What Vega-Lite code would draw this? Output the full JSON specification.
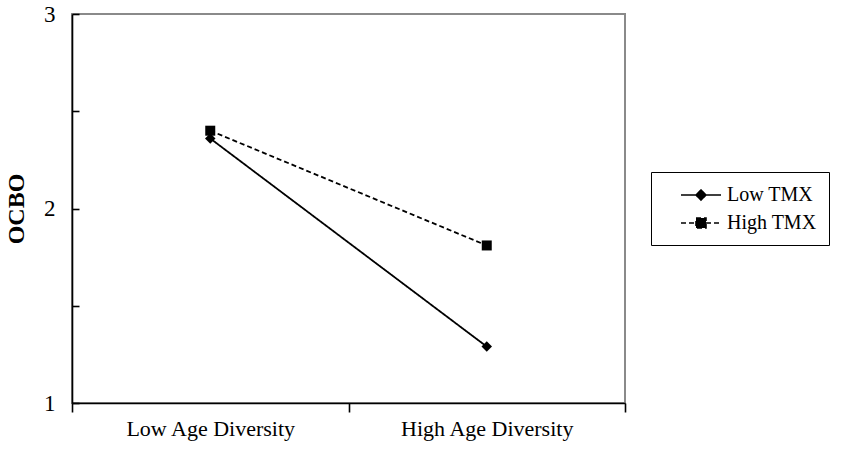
{
  "$schema": "https://vega.github.io/schema/vega-lite/v6.json",
  "autosize": {"type": "none"},
  "padding": {"left": 72, "top": 14, "right": 226, "bottom": 47},
  "width": 553,
  "height": 389,
  "background": "white",
  "data": {
    "values": [
      {"tmx": "Low TMX", "diversity": "Low Age Diversity", "ocbo": 2.36},
      {"tmx": "Low TMX", "diversity": "High Age Diversity", "ocbo": 1.29},
      {"tmx": "High TMX", "diversity": "Low Age Diversity", "ocbo": 2.40},
      {"tmx": "High TMX", "diversity": "High Age Diversity", "ocbo": 1.81}
    ]
  },
  "encoding": {
    "x": {
      "field": "diversity",
      "type": "nominal",
      "sort": ["Low Age Diversity", "High Age Diversity"],
      "scale": {"type": "band", "paddingInner": 0, "paddingOuter": 0},
      "title": null,
      "axis": {
        "tickBand": "extent",
        "tickSize": 9,
        "labelPadding": 6,
        "labelAngle": 0,
        "labelFontSize": 22
      }
    },
    "y": {
      "field": "ocbo",
      "type": "quantitative",
      "scale": {"domain": [1, 3]},
      "title": "OCBO",
      "axis": {
        "values": [1, 1.5, 2, 2.5, 3],
        "labelExpr": "datum.value % 1 === 0 ? format(datum.value, 'd') : ''",
        "tickSize": -7,
        "labelPadding": 24,
        "labelFontSize": 23,
        "titleFontSize": 24,
        "titleFontWeight": "bold",
        "titlePadding": 15
      }
    }
  },
  "layer": [
    {
      "mark": {"type": "line", "color": "black", "strokeWidth": 1.8},
      "encoding": {
        "strokeDash": {
          "field": "tmx",
          "type": "nominal",
          "scale": {"domain": ["Low TMX", "High TMX"], "range": [[1, 0], [5, 3]]},
          "legend": {
            "title": null,
            "orient": "none",
            "legendX": 579,
            "legendY": 158,
            "strokeColor": "black",
            "padding": 12,
            "rowPadding": 7,
            "symbolSize": 400,
            "symbolOffset": 27,
            "labelOffset": 15,
            "symbolStrokeWidth": 1.6,
            "symbolStrokeColor": "black",
            "symbolFillColor": "black",
            "labelFontSize": 20,
            "encode": {
              "symbols": {
                "update": {
                  "shape": {"signal": "datum.value === 'Low TMX' ? 'M-2,0H2M0,-0.5L0.5,0L0,0.5L-0.5,0Z' : 'M-2,0H-0.5M0.5,0H2M-0.5,-0.5H0.5V0.5H-0.5Z'"},
                  "fill": {"value": "black"},
                  "stroke": {"value": "black"}
                }
              }
            }
          }
        }
      }
    },
    {
      "transform": [{"filter": "datum.tmx === 'Low TMX'"}],
      "mark": {"type": "point", "shape": "diamond", "filled": true, "color": "black", "opacity": 1, "size": 110}
    },
    {
      "transform": [{"filter": "datum.tmx === 'High TMX'"}],
      "mark": {"type": "point", "shape": "square", "filled": true, "color": "black", "opacity": 1, "size": 100}
    }
  ],
  "config": {
    "font": "Liberation Serif",
    "view": {"stroke": "#8a8a8a", "strokeWidth": 2},
    "axis": {
      "domainColor": "black",
      "domainWidth": 1.6,
      "tickColor": "black",
      "tickWidth": 1.6,
      "labelColor": "black",
      "titleColor": "black",
      "grid": false,
      "labelFont": "Liberation Serif",
      "titleFont": "Liberation Serif"
    },
    "legend": {"labelFont": "Liberation Serif", "labelColor": "black"}
  }
}
